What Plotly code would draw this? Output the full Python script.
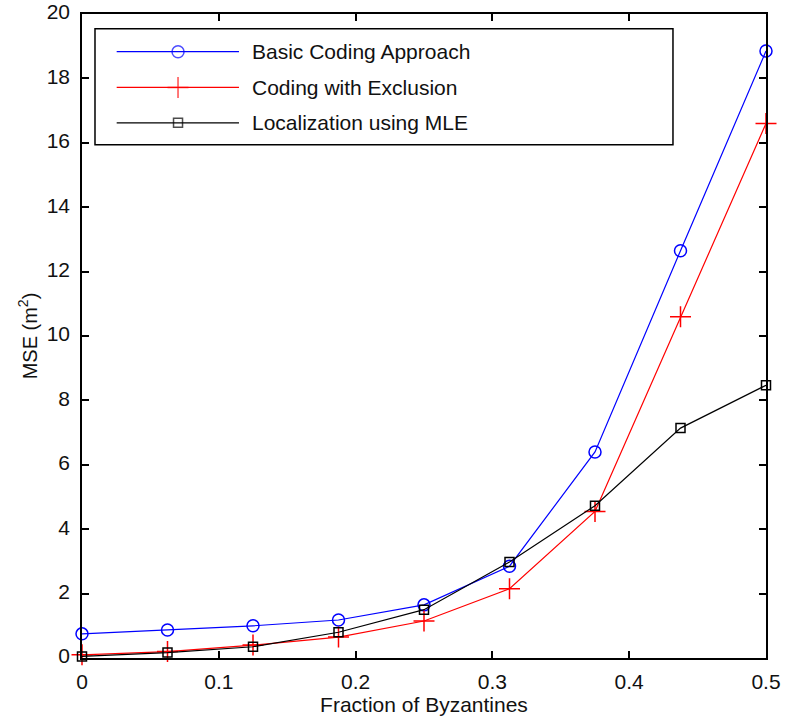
import plotly.graph_objects as go

fraction = [0, 0.0625, 0.125, 0.1875, 0.25, 0.3125, 0.375, 0.4375, 0.5]
basic_coding = [0.75, 0.87, 1.0, 1.18, 1.65, 2.85, 6.4, 12.65, 18.85]
coding_exclusion = [0.1, 0.2, 0.4, 0.65, 1.15, 2.15, 4.55, 10.6, 16.6]
localization_mle = [0.05, 0.17, 0.35, 0.8, 1.5, 2.98, 4.73, 7.14, 8.47]

series_names = ["Basic Coding Approach", "Coding with Exclusion", "Localization using MLE"]
x_ticks = [0, 0.1, 0.2, 0.3, 0.4, 0.5]
y_ticks = list(range(0, 21, 2))

FONT = "Liberation Sans, Arial, sans-serif"
colors = ["#0000ff", "#ff0000", "#000000"]
symbols = ["circle-open", "cross-thin-open", "square-open"]
msizes = [12, 15, 9]

fig = go.Figure()
for name, vals, c, s, ms in zip(series_names, [basic_coding, coding_exclusion, localization_mle], colors, symbols, msizes):
    fig.add_trace(go.Scatter(
        x=fraction, y=vals, mode="lines+markers", name=name,
        line=dict(color=c, width=1.2),
        marker=dict(symbol=s, size=ms, color=c, line=dict(width=1.5, color=c)),
        showlegend=False, cliponaxis=False,
    ))

# manual legend (overlay axes spanning the plot area)
rows = [0.9415, 0.886, 0.831]
for name, c, s, ms, ry in zip(series_names, colors, symbols, msizes, rows):
    fig.add_trace(go.Scatter(
        x=[0.0507, 0.1404, 0.2295], y=[ry, ry, ry], mode="lines+markers",
        xaxis="x2", yaxis="y2", showlegend=False, hoverinfo="skip",
        line=dict(color=c, width=1.2),
        marker=dict(symbol=s, size=[0, ms, 0], color=c, line=dict(width=1.5, color=c)),
    ))
    fig.add_annotation(x=0.2456, y=ry, xref="paper", yref="paper", text=name,
                       showarrow=False, xanchor="left", yanchor="middle",
                       font=dict(family=FONT, size=21, color="#111"))

fig.add_shape(type="rect", xref="paper", yref="paper", x0=0.019, x1=0.864, y0=0.797, y1=0.977,
              line=dict(color="black", width=1.5), fillcolor="white", layer="below")

axis_common = dict(
    showline=True, linecolor="black", linewidth=1.5, mirror="ticks",
    ticks="inside", ticklen=7, tickwidth=1.5, tickcolor="black",
    showgrid=False, zeroline=False, automargin=False, ticklabeloverflow="allow",
    tickfont=dict(family=FONT, size=21, color="#111"),
)
fig.update_layout(
    width=785, height=723,
    margin=dict(l=82, r=19, t=14, b=65),
    plot_bgcolor="white", paper_bgcolor="white",
    xaxis=dict(range=[0, 0.5], tickvals=x_ticks, ticktext=["0", "0.1", "0.2", "0.3", "0.4", "0.5"],
               ticklabelstandoff=4,
               title=dict(text="Fraction of Byzantines", font=dict(family=FONT, size=21, color="#111"), standoff=0),
               **axis_common),
    yaxis=dict(range=[0, 20], tickvals=y_ticks, ticklabelstandoff=6, ticklabelshift=-2,
               title=dict(text="MSE (m<sup>2</sup>)", font=dict(family=FONT, size=20, color="#111"), standoff=4),
               **axis_common),
    xaxis2=dict(overlaying="x", range=[0, 1], visible=False, fixedrange=True),
    yaxis2=dict(overlaying="y", range=[0, 1], visible=False, fixedrange=True),
)

fig.write_html("out.html", config={"displayModeBar": False},
               post_script="document.body.style.margin='0';document.body.style.overflow='hidden';")
